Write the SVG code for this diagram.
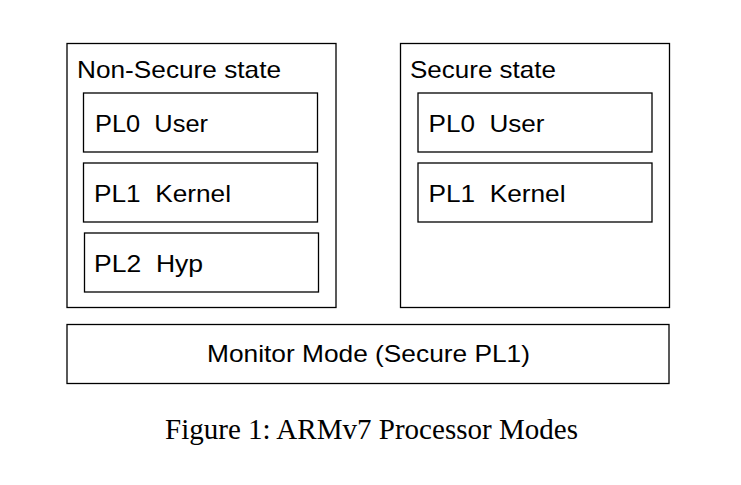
<svg xmlns="http://www.w3.org/2000/svg" width="741" height="485" viewBox="0 0 741 485">
<style>
rect{fill:none;stroke:#000;stroke-width:1.3}
.t{font-family:"Liberation Sans",Arial,sans-serif;font-size:24px;fill:#000}
.c{font-family:"Liberation Serif","Times New Roman",serif;font-size:29px;fill:#000}
</style>
<rect width="741" height="485" fill="#fff" style="fill:#fff;stroke:none"/>
<g id="nonsecure">
<rect x="67" y="43.5" width="269" height="264"/>
<text class="t" x="77" y="78.3" textLength="204" lengthAdjust="spacingAndGlyphs">Non-Secure state</text>
</g>
<g id="ns-pl0">
<rect x="83.5" y="93" width="234" height="59"/>
<text class="t" x="95" y="131.7" textLength="113" lengthAdjust="spacingAndGlyphs" xml:space="preserve">PL0  User</text>
</g>
<g id="ns-pl1">
<rect x="83.5" y="163" width="234" height="59"/>
<text class="t" x="94" y="201.7" textLength="137" lengthAdjust="spacingAndGlyphs" xml:space="preserve">PL1  Kernel</text>
</g>
<g id="ns-pl2">
<rect x="84.5" y="233" width="234" height="59"/>
<text class="t" x="94" y="271.7" textLength="109" lengthAdjust="spacingAndGlyphs" xml:space="preserve">PL2  Hyp</text>
</g>
<g id="secure">
<rect x="400.5" y="43.5" width="269" height="264"/>
<text class="t" x="410" y="78.3" textLength="146" lengthAdjust="spacingAndGlyphs">Secure state</text>
</g>
<g id="s-pl0">
<rect x="418" y="93" width="234" height="59"/>
<text class="t" x="428.5" y="131.7" textLength="116" lengthAdjust="spacingAndGlyphs" xml:space="preserve">PL0  User</text>
</g>
<g id="s-pl1">
<rect x="418" y="163" width="234" height="59"/>
<text class="t" x="428.5" y="201.7" textLength="137" lengthAdjust="spacingAndGlyphs" xml:space="preserve">PL1  Kernel</text>
</g>
<g id="monitor">
<rect x="67" y="324.5" width="602" height="59"/>
<text class="t" x="207" y="361.7" textLength="323" lengthAdjust="spacingAndGlyphs">Monitor Mode (Secure PL1)</text>
</g>
<g id="connectors"/>
<text class="c" x="165" y="439" textLength="413" lengthAdjust="spacingAndGlyphs">Figure 1: ARMv7 Processor Modes</text>
</svg>
